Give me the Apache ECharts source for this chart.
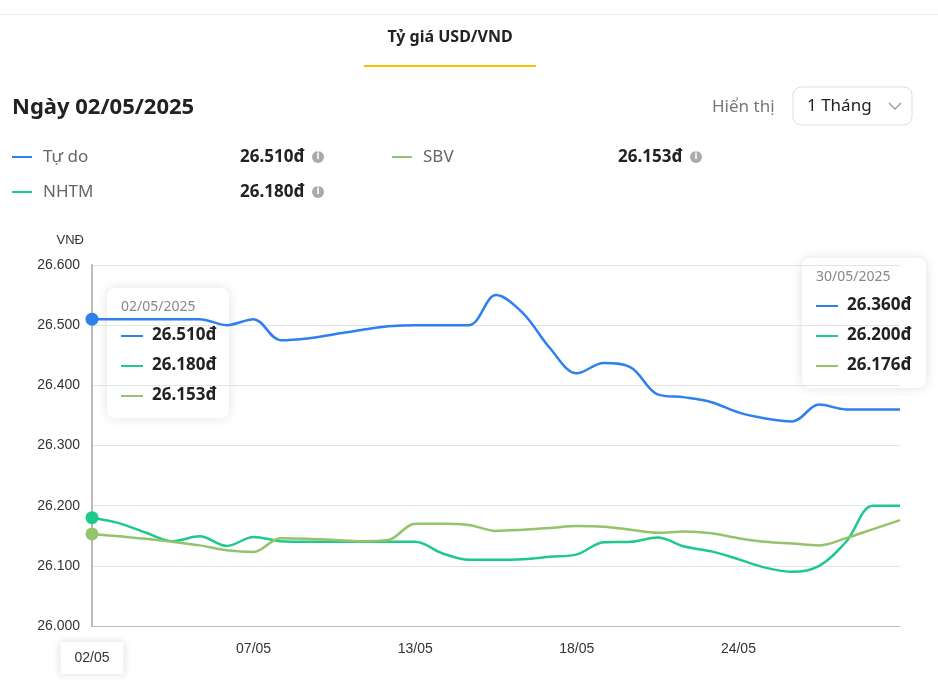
<!DOCTYPE html>
<html>
<head>
<meta charset="utf-8">
<script src="https://cdn.jsdelivr.net/npm/echarts@6/dist/echarts.min.js"></script>
<style>
  body { margin: 0; font-family: "Noto Sans", sans-serif; background: #fff; color: #222; }
  #page { position: relative; width: 938px; height: 684px; overflow: hidden; }
  #main { position: absolute; left: 0; top: 0; width: 938px; height: 684px; }
</style>
</head>
<body>
<div id="page">
  <div id="main"></div>
</div>
<script>
// dates on the x axis
var dates = ['02/05','03/05','04/05','05/05','06/05','06/05','07/05','08/05','09/05','10/05',
             '11/05','12/05','13/05','14/05','15/05','15/05','16/05','17/05','18/05','19/05',
             '20/05','21/05','22/05','23/05','24/05','25/05','26/05','27/05','28/05','29/05','30/05'];
var tuDo = [26510,26510,26510,26510,26510,26500,26510,26475,26478,26485,
            26492,26498,26500,26500,26500,26550,26520,26462,26420,26437,
            26430,26385,26380,26372,26355,26345,26340,26368,26360,26360,26360];
var nhtm = [26180,26171,26155,26141,26149,26133,26148,26141,26140,26140,
            26140,26140,26140,26121,26110,26110,26111,26115,26119,26139,
            26140,26147,26132,26124,26111,26097,26090,26100,26140,26200,26200];
var sbv  = [26153,26149,26145,26140,26134,26126,26123,26146,26145,26143,
            26141,26143,26170,26170,26168,26158,26160,26163,26166,26165,
            26160,26155,26157,26154,26146,26140,26137,26134,26146,26161,26176];
var names = ['Tự do', 'NHTM', 'SBV'];
var colors = ['#2f80ed', '#1dc98b', '#93c36b'];

function fmt(v) { return String(v).replace(/(\d)(?=(\d{3})+$)/g, '$1.'); }

var myChart = echarts.init(document.getElementById('main'));
var series = [tuDo, nhtm, sbv].map(function(arr, k) {
    return {
        name: names[k],
        type: 'line',
        smooth: 0.35,
        symbol: 'none',
        showSymbol: true,
        lineStyle: { width: 2.5, color: colors[k] },
        itemStyle: { color: colors[k] },
        data: arr.map(function(v, i) {
            return i === 0 ? { value: v, symbol: 'circle', symbolSize: 13 } : v;
        })
    };
});

var all = [tuDo, nhtm, sbv];
function tipBox(x, y, w, title, idx) {
    var kids = [{
        type: 'rect', shape: { x: 0, y: 0, width: w, height: 130, r: 8 },
        style: { fill: '#fff', shadowBlur: 12, shadowColor: 'rgba(0,0,0,0.12)' }
    }, {
        type: 'text', x: 14, y: 12, style: { text: title, fill: '#888', font: '14px "Noto Sans"' }
    }];
    [0, 1, 2].forEach(function(k, r) {
        kids.push({ type: 'rect', shape: { x: 14, y: 47 + r * 30, width: 22, height: 2 }, style: { fill: colors[k] } });
        kids.push({ type: 'text', x: 45, y: 39 + r * 30,
            style: { text: fmt(all[k][idx]) + 'đ', fill: '#222', font: 'bold 17px "Noto Sans"' } });
    });
    return { type: 'group', x: x, y: y, children: kids };
}

var legend = [];
[[0, 12, 157, 240], [2, 392, 157, 618], [1, 12, 192, 240]].forEach(function(p) {
    var k = p[0];
    legend.push({ type: 'rect', shape: { x: p[1], y: p[2] - 1, width: 20, height: 2 }, style: { fill: colors[k] } });
    legend.push({ type: 'text', x: p[1] + 31, y: p[2] - 8, style: { text: names[k], fill: '#666', font: '17px "Noto Sans"' } });
    legend.push({ type: 'text', x: p[3], y: p[2] - 8, style: { text: fmt(all[k][0]) + 'đ', fill: '#222', font: 'bold 17px "Noto Sans"' } });
    var ix = p[3] + 78;
    legend.push({ type: 'circle', shape: { cx: ix, cy: p[2], r: 6 }, style: { fill: '#aaa' } });
    legend.push({ type: 'text', x: ix - 1.5, y: p[2] - 6, style: { text: 'i', fill: '#fff', font: 'bold 10px "Noto Sans"' } });
});

var option = {
    animation: false,
    grid: { left: 92, right: 38, top: 265, bottom: 58 },
    xAxis: {
        type: 'category',
        data: dates,
        boundaryGap: false,
        axisLine: { lineStyle: { color: '#bbb' } },
        axisTick: { show: false },
        axisLabel: {
            interval: 5, color: '#333', fontSize: 14, margin: 16, showMaxLabel: false,
            formatter: function(v, i) { return i === 0 ? '{b|' + v + '}' : (i === dates.length - 1 ? '' : v); },
            rich: { b: { padding: [9, 14], backgroundColor: '#fff', shadowBlur: 8,
                         shadowColor: 'rgba(0,0,0,0.15)', fontSize: 14, color: '#333' } }
        }
    },
    yAxis: {
        type: 'value', min: 26000, max: 26600, interval: 100,
        name: 'VNĐ', nameLocation: 'end', nameGap: 18,
        nameTextStyle: { color: '#333', fontSize: 13, align: 'right', padding: [0, 8, 0, 0] },
        axisLine: { show: true, lineStyle: { color: '#bbb', width: 2 } },
        axisLabel: { color: '#333', fontSize: 14, margin: 12, formatter: function(v) { return fmt(v); } },
        splitLine: { lineStyle: { color: '#e3e3e3' } }
    },
    series: series,
    graphic: [
        { type: 'rect', shape: { x: 0, y: 14, width: 938, height: 1 }, style: { fill: '#eee' } },
        { type: 'text', x: 450, y: 29, style: { text: 'Tỷ giá USD/VND', fill: '#222', font: 'bold 16px "Noto Sans"', align: 'center' } },
        { type: 'rect', shape: { x: 364, y: 65, width: 172, height: 2 }, style: { fill: '#f2c200' } },
        { type: 'text', x: 12, y: 97, style: { text: 'Ngày 02/05/2025', fill: '#222', font: 'bold 22px "Noto Sans"' } },
        { type: 'text', x: 712, y: 99, style: { text: 'Hiển thị', fill: '#777', font: '17px "Noto Sans"' } },
        { type: 'rect', shape: { x: 793, y: 87, width: 119, height: 38, r: 8 }, style: { fill: '#fff', stroke: '#ddd', lineWidth: 1 } },
        { type: 'text', x: 807, y: 98, style: { text: '1 Tháng', fill: '#222', font: '17px "Noto Sans"' } },
        { type: 'polyline', shape: { points: [[889, 103], [895, 109], [901, 103]] }, style: { stroke: '#999', lineWidth: 1.3, fill: null } },
        tipBox(107, 288, 122, '02/05/2025', 0),
        tipBox(802, 258, 124, '30/05/2025', 30)
    ].concat(legend)
};
myChart.setOption(option);
</script>
</body>
</html>
